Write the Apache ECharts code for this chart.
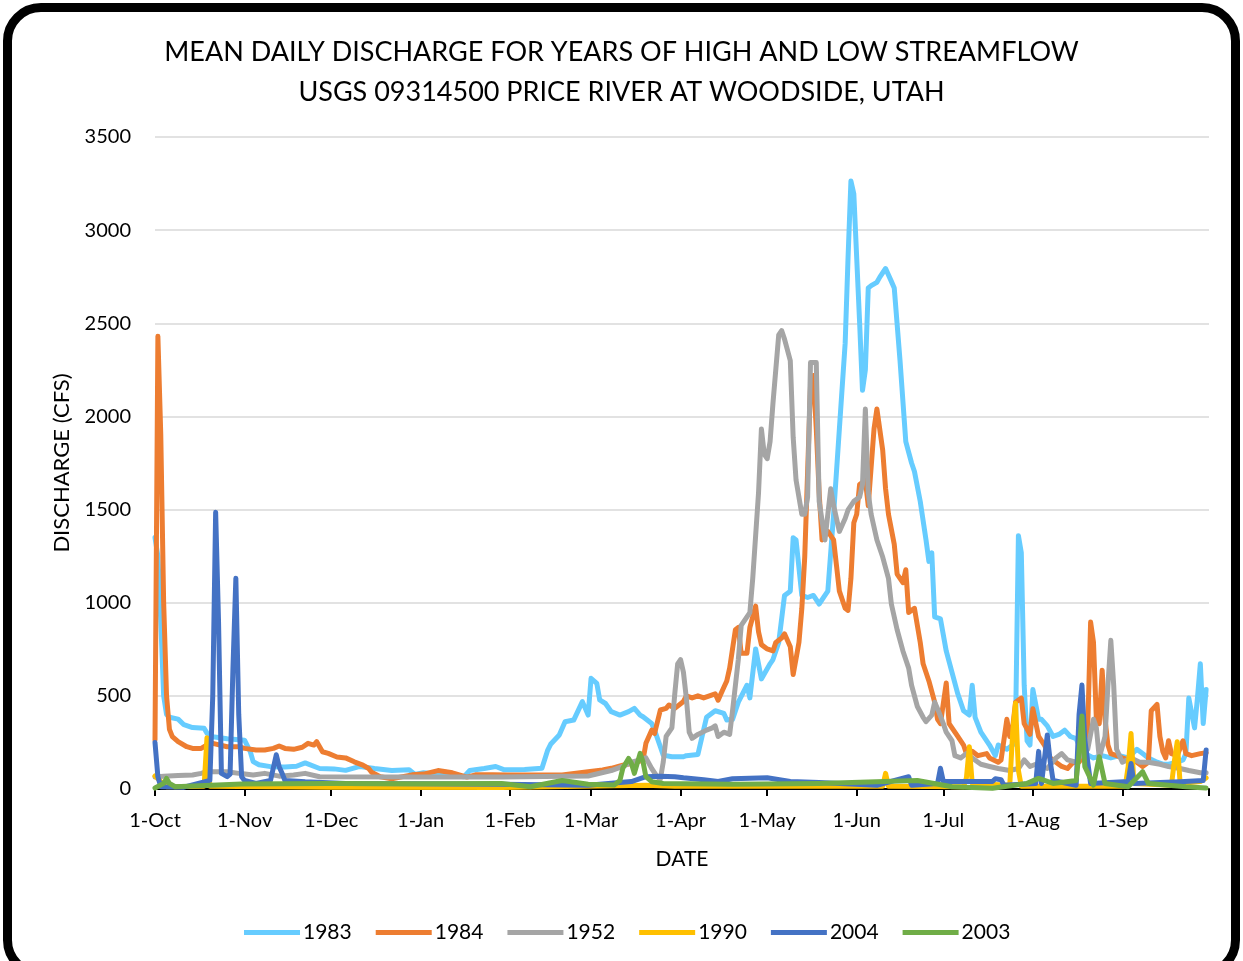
<!DOCTYPE html>
<html>
<head>
<meta charset="utf-8">
<script src="https://cdn.jsdelivr.net/npm/echarts@6/dist/echarts.min.js"></script>
<style>
  html, body { margin: 0; padding: 0; background: #fff; }
  #frame {
    position: absolute; left: 3px; top: 3px; width: 1237px; height: 975px;
    box-sizing: border-box; border: 9px solid #000; border-radius: 38px;
  }
  #chart { position: absolute; left: 0; top: 0; width: 1243px; height: 961px; }
</style>
</head>
<body>
<div id="frame"></div>
<div id="chart"></div>
<script>
// mean daily discharge, water year day (0 = 1-Oct) -> cfs
const years = ['1983', '1984', '1952', '1990', '2004', '2003']
const colors = ['#66CCFF', '#ED7D31', '#A5A5A5', '#FFC000', '#4472C4', '#70AD47']

const monthStartDays = [0, 31, 61, 92, 123, 151, 182, 212, 243, 273, 304, 335]
const monthLabels = ['1-Oct', '1-Nov', '1-Dec', '1-Jan', '1-Feb', '1-Mar', '1-Apr', '1-May', '1-Jun', '1-Jul', '1-Aug', '1-Sep']

const flow1983 = [[0,1350],[1,1250],[2,900],[3,500],[4,400],[5,385],[8,375],[10,345],[13,330],[17,326],[18,300],[20,281],[25,270],[31,262],[33,200],[34,147],[36,130],[40,120],[45,118],[49,122],[52,140],[57,110],[62,108],[66,100],[71,121],[76,110],[82,99],[88,103],[90,78],[93,87],[100,76],[107,66],[109,99],[114,110],[118,121],[121,103],[128,105],[134,111],[136,209],[137,240],[140,290],[142,361],[145,370],[148,469],[150,397],[151,594],[153,567],[154,478],[156,459],[158,415],[161,397],[164,415],[166,433],[168,397],[169,388],[172,352],[173,316],[175,227],[176,182],[179,173],[183,173],[184,179],[188,185],[191,385],[194,420],[197,406],[198,370],[200,374],[202,466],[205,557],[206,489],[208,752],[210,591],[213,672],[214,695],[216,787],[218,1039],[220,1062],[221,1349],[222,1337],[224,1039],[226,1028],[228,1039],[230,993],[232,1039],[233,1062],[235,1475],[237,1933],[239,2392],[240,2851],[241,3264],[242,3195],[244,2507],[245,2140],[246,2250],[247,2690],[248,2702],[250,2720],[251,2748],[253,2794],[255,2725],[256,2690],[258,2300],[260,1865],[262,1750],[263,1704],[265,1544],[267,1337],[268,1222],[269,1268],[270,924],[272,913],[274,741],[276,626],[278,511],[280,420],[282,397],[283,557],[284,385],[286,305],[289,236],[291,179],[292,236],[295,213],[297,236],[298,328],[299,1360],[300,1268],[301,557],[302,259],[303,236],[304,534],[306,374],[307,374],[309,339],[311,282],[313,293],[315,316],[317,282],[319,270],[320,236],[322,190],[325,167],[328,179],[331,167],[334,179],[337,167],[340,213],[342,190],[344,167],[347,144],[349,133],[351,133],[354,144],[356,156],[357,190],[358,488],[360,328],[361,488],[362,672],[363,351],[364,534]]

const flow1984 = [[0,263],[1,2430],[2,1900],[3,1000],[4,500],[5,320],[6,281],[8,254],[11,227],[13,218],[16,218],[18,236],[20,245],[25,227],[29,227],[31,218],[35,209],[38,209],[41,218],[43,231],[45,218],[48,213],[51,224],[53,245],[55,236],[56,254],[58,200],[60,191],[63,172],[66,167],[69,146],[72,128],[74,110],[75,90],[78,66],[82,55],[89,76],[93,80],[98,99],[103,87],[108,64],[111,76],[117,76],[122,75],[132,75],[141,75],[150,93],[155,102],[158,111],[162,128],[165,137],[169,155],[170,245],[172,316],[173,298],[175,424],[177,433],[178,451],[180,433],[183,470],[184,500],[186,489],[188,500],[190,489],[192,500],[194,511],[195,477],[197,546],[198,580],[199,649],[201,855],[202,867],[203,729],[205,729],[206,867],[208,982],[209,844],[210,775],[212,752],[214,741],[215,787],[217,810],[218,833],[220,764],[221,615],[222,700],[223,787],[224,970],[225,1245],[226,1704],[227,2163],[228,2220],[229,1933],[230,1589],[231,1337],[233,1383],[235,1337],[236,1200],[237,1062],[239,970],[240,959],[241,1131],[242,1429],[243,1475],[244,1635],[246,1658],[247,1521],[249,1933],[250,2040],[252,1819],[253,1612],[254,1475],[256,1314],[257,1154],[259,1108],[260,1177],[261,947],[263,970],[265,787],[266,672],[268,580],[270,466],[271,374],[272,351],[274,569],[275,351],[277,305],[278,282],[280,236],[281,190],[283,202],[285,179],[288,190],[289,167],[292,144],[293,156],[295,374],[296,282],[297,328],[298,466],[300,488],[301,351],[303,293],[304,431],[306,282],[308,236],[310,167],[312,144],[314,121],[316,110],[318,144],[320,144],[322,190],[323,328],[324,896],[325,787],[326,374],[327,351],[328,638],[329,374],[330,236],[331,190],[333,179],[335,167],[337,156],[340,144],[342,121],[344,144],[345,420],[347,454],[348,282],[349,202],[350,167],[351,259],[352,190],[354,179],[356,259],[357,190],[359,179],[362,190],[364,195]]

const flow1952 = [[0,64],[3,68],[8,72],[13,75],[16,84],[18,93],[20,93],[25,93],[29,84],[34,75],[38,84],[43,69],[48,75],[52,84],[57,66],[92,64],[120,64],[150,70],[158,99],[162,121],[165,144],[168,156],[170,167],[172,110],[174,64],[175,53],[176,144],[177,282],[179,328],[180,511],[181,672],[182,695],[183,626],[184,489],[185,305],[186,272],[188,293],[191,316],[193,328],[194,339],[195,282],[197,305],[199,293],[200,420],[201,557],[202,695],[203,878],[205,924],[206,947],[207,1131],[208,1360],[209,1589],[210,1933],[211,1796],[212,1773],[213,1865],[214,2071],[215,2255],[216,2438],[217,2461],[218,2415],[220,2300],[221,1888],[222,1658],[224,1475],[225,1475],[226,1567],[227,2289],[229,2289],[230,1544],[232,1337],[233,1475],[234,1612],[235,1521],[237,1383],[239,1452],[240,1498],[242,1544],[244,1567],[245,1635],[246,2040],[247,1589],[248,1475],[250,1337],[252,1245],[254,1131],[255,993],[257,855],[259,741],[261,649],[262,557],[264,443],[266,385],[267,362],[269,397],[270,466],[271,431],[273,351],[274,305],[276,259],[277,179],[279,167],[281,190],[283,167],[286,133],[289,121],[292,110],[296,99],[299,110],[301,156],[303,121],[305,133],[309,110],[312,167],[314,190],[316,156],[319,144],[321,190],[323,213],[325,374],[326,328],[327,167],[329,282],[330,557],[331,798],[332,557],[333,213],[335,144],[338,167],[341,144],[344,144],[348,133],[351,121],[355,110],[358,99],[362,87],[364,87]]

const flow1990 = [[0,70],[2,40],[4,12],[17,15],[18,275],[19,15],[60,10],[120,8],[170,20],[180,15],[252,15],[253,84],[254,15],[280,12],[281,60],[282,227],[283,30],[296,20],[297,300],[298,460],[299,100],[300,15],[336,15],[337,120],[338,298],[339,30],[352,20],[353,150],[354,254],[355,30],[362,40],[364,60]]

const flow2004 = [[0,250],[1,66],[2,12],[10,10],[19,46],[20,500],[21,1486],[22,900],[23,84],[25,66],[26,80],[27,650],[28,1131],[29,400],[30,66],[31,46],[35,30],[40,46],[42,184],[43,120],[44,84],[45,46],[52,39],[66,30],[90,28],[120,25],[150,20],[165,40],[170,66],[175,69],[180,66],[183,60],[190,50],[195,40],[200,55],[212,60],[220,40],[230,35],[250,20],[261,66],[262,20],[271,30],[272,111],[273,40],[290,40],[291,55],[293,50],[294,20],[305,30],[306,202],[307,30],[309,290],[310,150],[311,46],[319,20],[320,400],[321,558],[322,263],[324,30],[337,40],[338,137],[339,30],[355,39],[363,46],[364,209]]

const flow2003 = [[0,5],[3,30],[4,57],[5,30],[7,12],[30,27],[60,30],[90,28],[120,30],[130,12],[141,46],[150,25],[159,21],[161,46],[162,111],[164,164],[165,137],[166,84],[168,191],[169,146],[170,66],[172,39],[176,30],[200,25],[230,30],[264,46],[276,12],[290,4],[302,30],[306,57],[311,30],[319,46],[320,200],[321,392],[322,120],[325,21],[327,173],[329,30],[337,12],[342,93],[344,30],[357,12],[364,5]]

const flows = [flow1983, flow1984, flow1952, flow1990, flow2004, flow2003]

const chart = echarts.init(document.getElementById('chart'))
const font = 'Lato, "Open Sans", sans-serif'

const option = {
  animation: false,
  textStyle: { fontFamily: font },
  title: {
    text: 'MEAN DAILY DISCHARGE FOR YEARS OF HIGH AND LOW STREAMFLOW\nUSGS 09314500 PRICE RIVER AT WOODSIDE, UTAH',
    left: 'center',
    top: 27,
    textStyle: { fontSize: 27, fontWeight: 'normal', color: '#000', lineHeight: 40, fontFamily: font }
  },
  legend: {
    data: years,
    top: 917,
    left: 239,
    icon: 'rect',
    itemWidth: 56,
    itemHeight: 5,
    itemGap: 24,
    textStyle: { fontSize: 21, color: '#000', fontFamily: font, padding: [0, 0, 0, -2] }
  },
  grid: { left: 155, right: 34, top: 137, bottom: 172 },
  xAxis: {
    type: 'value',
    min: 0,
    max: 365,
    name: 'DATE',
    nameLocation: 'middle',
    nameGap: 60,
    nameTextStyle: { fontSize: 21, color: '#000' },
    axisLine: { lineStyle: { color: '#000', width: 2 } },
    axisTick: { show: true, customValues: monthStartDays.concat([365]), length: 7, lineStyle: { color: '#000', width: 2 } },
    axisLabel: {
      customValues: monthStartDays,
      formatter: v => monthLabels[monthStartDays.indexOf(v)],
      fontSize: 20, color: '#000', margin: 22
    },
    splitLine: { show: false }
  },
  yAxis: {
    type: 'value',
    min: 0,
    max: 3500,
    interval: 500,
    name: 'DISCHARGE (CFS)',
    nameLocation: 'middle',
    nameRotate: 90,
    nameGap: 82,
    nameTextStyle: { fontSize: 22, color: '#000' },
    axisLine: { show: false },
    axisTick: { show: false },
    axisLabel: { fontSize: 20, color: '#000', margin: 24, formatter: v => String(v) },
    splitLine: { lineStyle: { color: '#D9D9D9', width: 1.5 } }
  },
  series: years.map((y, i) => ({
    name: y,
    type: 'line',
    data: flows[i],
    showSymbol: false,
    symbol: 'none',
    color: colors[i],
    lineStyle: { width: 5, cap: 'round', join: 'round', color: colors[i] }
  }))
}

chart.setOption(option)
</script>
</body>
</html>
